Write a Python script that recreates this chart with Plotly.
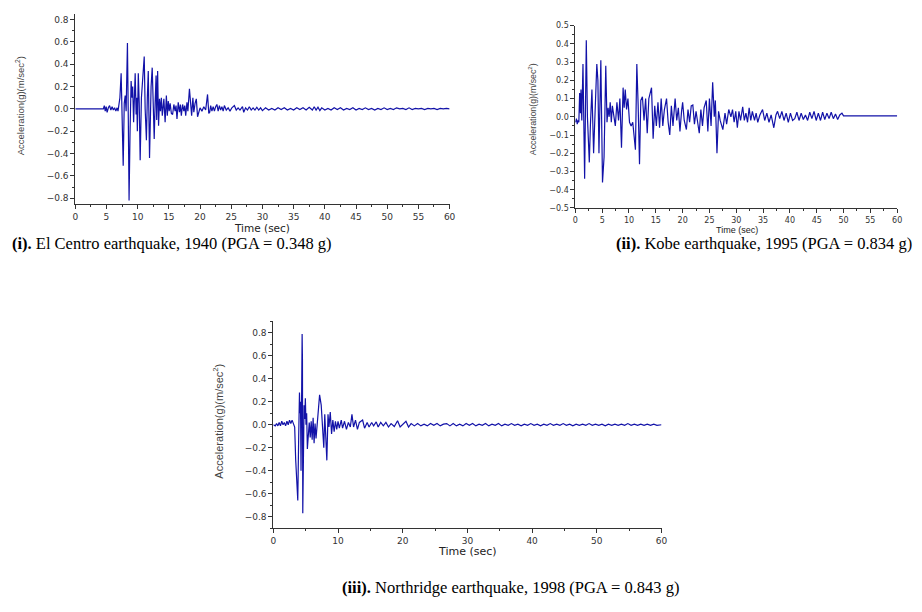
import plotly.graph_objects as go

# ---------------- data ----------------
# (i) El Centro, 1940
elcentro_t = [0, 4.5, 4.65, 4.8, 4.95, 5.1, 5.3, 5.5, 5.7, 5.9, 6.1, 6.3, 6.5, 6.7, 6.85, 7.0,
              7.15, 7.35, 7.5, 7.68, 7.85, 8.0, 8.15, 8.36, 8.5, 8.62, 8.78, 8.95, 9.1, 9.2, 9.35,
              9.47, 9.6, 9.75, 9.85, 9.95, 10.1, 10.25, 10.4, 10.6, 10.8, 11.05, 11.2, 11.4, 11.55,
              11.7, 11.9, 12.05, 12.15, 12.33, 12.5, 12.65, 12.8, 12.95, 13.05, 13.2, 13.35, 13.5,
              13.65, 13.8, 13.95, 14.1, 14.2, 14.4, 14.6, 14.75, 14.9, 15.05, 15.2, 15.4, 15.6, 15.8,
              16.0, 16.15, 16.3, 16.5, 16.7, 16.85, 17.0, 17.2, 17.4, 17.55, 17.7, 17.9, 18.05, 18.3,
              18.5, 18.65, 18.85, 19.0, 19.2, 19.4, 19.6, 19.8, 20.0, 20.3, 20.6, 20.9, 21.2, 21.4,
              21.55, 21.7, 21.9, 22.1, 22.3, 22.5, 22.7, 22.9, 23.1, 23.3, 23.5, 23.7, 23.9, 24.2,
              24.5, 24.8, 25.1, 25.5, 25.8, 26.1, 26.4, 26.8, 27.0, 27.3, 27.6, 27.9, 28.2, 28.5,
              28.8, 29.1, 29.4, 29.7, 30.0, 30.5, 31.0, 31.5, 32.0, 32.5, 33.0, 33.5, 34.0, 34.5,
              35.0, 35.5, 36.0, 36.5, 37.0, 37.5, 38.0, 38.3, 38.6, 38.9, 39.2, 39.5, 40.0, 40.5,
              41.0, 41.5, 42.0, 42.5, 43.0, 43.5, 44.0, 44.5, 45.0, 45.5, 46.0, 46.5, 47.0, 47.5,
              48.0, 48.5, 49.0, 49.5, 50.0, 50.5, 51.0, 51.5, 52.0, 52.5, 53.0, 53.5, 54.0, 54.5,
              55.0, 55.5, 56.0, 56.5, 57.0, 57.5, 58.0, 58.5, 59.0, 59.5, 60.0]
elcentro_a = [0, 0, 0.03, -0.02, 0.02, -0.03, 0.01, 0.03, -0.01, 0.02, -0.01, 0.01, -0.02, 0.01, -0.02, 0.06,
              0.1, 0.32, 0.0, -0.51, 0.05, 0.12, -0.02, 0.59, -0.1, -0.82, -0.2, 0.25, 0.1, 0.2, -0.12,
              0.05, 0.32, -0.05, 0.1, -0.2, 0.32, 0.05, -0.46, 0.1, 0.3, 0.47, 0.0, -0.28, 0.1,
              0.34, -0.44, 0.0, 0.2, 0.37, 0.0, -0.27, 0.05, 0.3, -0.1, 0.34, -0.15, 0.09,
              -0.02, 0.1, -0.06, 0.03, 0.09, -0.12, 0.12, -0.06, 0.07, -0.02, 0.05, -0.04, -0.05, 0.04,
              -0.02, 0.03, -0.09, 0.06, -0.03, 0.04, -0.06, 0.04, -0.02, 0.03, -0.06, 0.06, -0.02, 0.18,
              0.02, -0.06, 0.1, -0.03, 0.05, 0.09, -0.07, -0.02, 0.01, -0.02, 0.02, -0.01, 0.13, -0.04,
              -0.03, 0.03, -0.02, 0.02, -0.02, 0.02, 0.04, -0.02, 0.03, -0.01, 0.02, -0.02, 0.03, -0.01,
              0.01, -0.02, 0.01, 0.03, -0.01, 0.01, -0.01, 0.02, -0.03, 0.01, -0.01, 0.02, -0.01, 0.01,
              -0.01, 0.015, -0.01, 0.01, -0.015, 0.01, -0.01, 0.005, -0.01, 0.01, -0.005, 0.01, -0.01, 0.005,
              -0.01, 0.01, -0.005, 0.01, -0.01, 0.015, -0.01, 0.02, -0.01, 0.015, -0.015, 0.01, -0.01, 0.005,
              -0.01, 0.01, -0.005, 0.01, -0.01, 0.005, -0.005, 0.01, -0.01, 0.005, -0.005, 0.01, -0.005, 0.005,
              -0.01, 0.005, -0.005, 0.01, -0.005, 0.005, -0.005, 0.01, 0.0, 0.005, -0.005, 0.01, -0.005, 0.005,
              0.0, 0.005, -0.005, 0.005, 0.0, 0.005, -0.005, 0.005, 0.0, 0.005, 0.0]

# (ii) Kobe, 1995
kobe_t = [0, 0.2, 0.35, 0.5, 0.65, 0.8, 0.95, 1.05, 1.2, 1.42, 1.73, 2.04, 2.25, 2.6, 2.8, 3.09, 3.4,
          3.65, 4.0, 4.2, 4.4, 4.75, 5.06, 5.35, 5.67, 5.9, 6.1, 6.3, 6.5, 6.7, 6.9, 7.2, 7.45, 7.75,
          8.05, 8.3, 8.6, 8.9, 9.1, 9.3, 9.55, 9.8, 10.1, 10.4, 10.7, 11.2, 11.46, 11.7, 11.96, 12.2,
          12.5, 12.8, 13.1, 13.4, 13.7, 14.2, 14.5, 14.8, 15.1, 15.4, 15.7, 16.0, 16.3, 16.6, 17.0,
          17.3, 17.6, 17.9, 18.2, 18.6, 18.9, 19.2, 19.5, 19.8, 20.0, 20.3, 20.7, 21.0, 21.3, 21.6,
          21.9, 22.2, 22.5, 22.8, 23.1, 23.4, 23.7, 24.0, 24.4, 24.7, 25.0, 25.3, 25.6, 25.9, 26.1,
          26.4, 26.7, 27.0, 27.5, 27.9, 28.2, 28.6, 29.0, 29.3, 29.6, 29.9, 30.2, 30.5, 30.8, 31.2,
          31.5, 31.8, 32.1, 32.4, 32.7, 33.0, 33.4, 33.7, 34.0, 34.4, 34.9, 35.3, 35.7, 36.1, 36.5,
          37.0, 37.4, 37.7, 38.1, 38.5, 38.9, 39.3, 39.7, 40.1, 40.5, 40.9, 41.3, 41.7, 42.1, 42.5,
          42.9, 43.3, 43.7, 44.1, 44.5, 44.9, 45.3, 45.7, 46.1, 46.5, 46.9, 47.3, 47.7, 48.1, 48.5,
          48.9, 49.3, 49.7, 50.0, 60.0]
kobe_a = [-0.03, -0.01, -0.04, -0.02, -0.03, 0.13, 0.02, 0.15, -0.02, 0.29, -0.34, 0.42, 0.0, -0.25, -0.05, 0.15, -0.2,
          0.0, 0.29, 0.2, -0.2, 0.31, -0.36, -0.22, 0.28, -0.03, 0.05, 0.0, 0.08, -0.03, 0.06, 0.0, -0.05, 0.08,
          -0.02, 0.1, -0.17, 0.16, 0.05, 0.15, 0.04, 0.1, -0.03, -0.05, -0.03, -0.18, 0.29, 0.07, -0.26, 0.09,
          0.11, -0.02, 0.1, -0.09, 0.1, 0.16, -0.12, 0.06, -0.05, 0.08, -0.06, 0.1, -0.05, 0.04, 0.1,
          -0.03, -0.1, 0.06, -0.05, 0.1, -0.02, 0.05, -0.08, 0.03, 0.08, -0.02, -0.07, 0.04, -0.03, 0.06,
          0.065, -0.04, 0.03, -0.03, -0.09, 0.04, -0.05, 0.05, 0.09, -0.08, 0.1, -0.05, 0.19, 0.0, 0.09,
          -0.2, 0.03, -0.02, -0.07, 0.02, -0.04, 0.04, 0.0, 0.04, -0.03, 0.03, -0.06, 0.03, -0.02, 0.055,
          -0.02, 0.02, -0.03, 0.05, -0.02, 0.03, -0.02, 0.02, -0.03, 0.01, 0.04, -0.02, 0.02, -0.03, 0.01,
          -0.06, 0.01, 0.03, -0.01, 0.03, -0.02, 0.02, -0.03, 0.02, -0.02, -0.01, 0.025, -0.02, 0.02, -0.015,
          0.01, -0.02, 0.025, -0.01, 0.03, -0.02, 0.02, -0.02, 0.025, -0.015, 0.02, -0.01, 0.025, -0.01, 0.015,
          -0.015, 0.01, 0.02, 0.005, 0.005]

# (iii) Northridge, 1998
north_t = [0, 0.3, 0.5, 0.7, 0.9, 1.1, 1.3, 1.5, 1.7, 1.9, 2.1, 2.3, 2.5, 2.7, 2.9, 3.1, 3.3, 3.45,
           3.58, 3.78, 3.92, 4.04, 4.12, 4.2, 4.28, 4.38, 4.45, 4.5, 4.55, 4.65, 4.75, 4.85, 4.95,
           5.05, 5.15, 5.26, 5.4, 5.55, 5.7, 5.85, 6.0, 6.15, 6.3, 6.45, 6.6, 6.8, 6.95, 7.15, 7.4,
           7.6, 7.8, 7.95, 8.1, 8.27, 8.45, 8.6, 8.8, 9.0, 9.2, 9.4, 9.6, 9.8, 10.0, 10.2, 10.5,
           10.7, 11.0, 11.3, 11.6, 11.9, 12.15, 12.4, 12.7, 13.0, 13.3, 13.8, 14.1, 14.5, 14.8, 15.2,
           15.5, 15.9, 16.2, 16.6, 17.0, 17.4, 17.8, 18.2, 18.7, 19.2, 19.6, 20.0, 20.5, 20.9, 21.3,
           21.8, 22.3, 22.8, 23.3, 23.8, 24.3, 24.8, 25.3, 25.8, 26.3, 26.8, 27.3, 27.8, 28.3, 28.8,
           29.3, 29.8, 30.3, 30.8, 31.3, 31.8, 32.3, 32.8, 33.3, 33.8, 34.3, 34.8, 35.3, 35.8, 36.3,
           36.8, 37.3, 37.8, 38.3, 38.8, 39.3, 39.8, 40.3, 40.8, 41.3, 41.8, 42.3, 42.8, 43.3, 43.8,
           44.3, 44.8, 45.3, 45.8, 46.3, 46.8, 47.3, 47.8, 48.3, 48.8, 49.3, 49.8, 50.3, 50.8, 51.3,
           51.8, 52.3, 52.8, 53.3, 53.8, 54.3, 54.8, 55.3, 55.8, 56.3, 56.8, 57.3, 57.8, 58.3, 58.8,
           59.3, 60.0]
north_a = [0.0, -0.01, 0.01, -0.01, 0.02, -0.01, 0.03, 0.0, 0.02, -0.01, 0.03, 0.0, 0.04, 0.01, 0.04, 0.0, -0.02, -0.3,
           -0.49, -0.66, -0.1, 0.28, 0.1, 0.2, -0.4, 0.2, 0.79, 0.57, -0.77, 0.05, 0.17, 0.05, 0.23,
           0.0, 0.1, -0.21, -0.05, 0.02, -0.11, 0.03, -0.13, 0.06, -0.16, 0.01, -0.12, 0.0, 0.15, 0.26, 0.17,
           -0.06, -0.2, 0.09, -0.08, -0.31, 0.09, -0.02, 0.11, -0.08, 0.04, -0.06, 0.03, -0.04, 0.03, -0.03, 0.04,
           -0.03, 0.03, -0.04, 0.02, -0.02, 0.09, -0.02, 0.04, -0.04, 0.02, 0.04, -0.03, 0.02, -0.02, 0.02,
           -0.01, 0.025, -0.02, 0.02, -0.01, 0.02, -0.02, 0.01, -0.015, 0.035, -0.02, 0.0, 0.03, -0.02, 0.01,
           -0.01, 0.01, -0.01, 0.005, -0.01, 0.01, -0.005, 0.01, -0.01, 0.005, 0.01, -0.01, 0.01, -0.01, 0.005,
           -0.01, 0.01, -0.005, 0.01, -0.01, 0.005, -0.005, 0.01, -0.01, 0.005, -0.005, 0.01, -0.01, 0.005, -0.005,
           0.01, -0.005, 0.005, -0.01, 0.005, -0.005, 0.01, -0.005, 0.005, -0.01, 0.005, -0.005, 0.01, -0.005, 0.005,
           -0.005, 0.01, -0.005, 0.005, -0.01, 0.005, -0.005, 0.005, -0.005, 0.01, -0.005, 0.005, -0.005, 0.005, -0.01,
           0.005, -0.005, 0.005, -0.005, 0.005, -0.005, 0.01, -0.005, 0.005, -0.005, 0.005, -0.005, 0.005, -0.005, 0.005,
           -0.005, 0.0]

captions = ["<b>(i).</b> El Centro earthquake, 1940 (PGA = 0.348 g)",
            "<b>(ii).</b> Kobe earthquake, 1995 (PGA = 0.834 g)",
            "<b>(iii).</b> Northridge earthquake, 1998 (PGA = 0.843 g)"]
y_title = "Acceleration(g)(m/sec<sup>2</sup>)"
x_title = "Time (sec)"

# ---------------- figure ----------------
W, H = 922, 612
LINE = "#1212a8"
AX = "#333333"
TICKF = "DejaVu Sans"
NARROW = "Liberation Sans Narrow, Arial Narrow, Liberation Sans, Arial"


def dom_x(a, b):
    return [a / W, b / W]


def dom_y(top, bot):
    return [1 - bot / H, 1 - top / H]


fig = go.Figure()
fig.add_trace(go.Scatter(x=elcentro_t, y=elcentro_a, mode="lines", line=dict(color=LINE, width=1.2),
                         xaxis="x", yaxis="y", showlegend=False, hoverinfo="skip"))
fig.add_trace(go.Scatter(x=kobe_t, y=kobe_a, mode="lines", line=dict(color=LINE, width=1.2),
                         xaxis="x2", yaxis="y2", showlegend=False, hoverinfo="skip"))
fig.add_trace(go.Scatter(x=north_t, y=north_a, mode="lines", line=dict(color=LINE, width=1.2),
                         xaxis="x3", yaxis="y3", showlegend=False, hoverinfo="skip"))


def base_x(domain, anchor, dtick, minor, fsize):
    return dict(domain=domain, anchor=anchor, range=[0, 60], dtick=dtick, tick0=0,
                showline=True, linecolor=AX, linewidth=1, ticks="outside", ticklen=4,
                tickcolor=AX, tickwidth=1, showgrid=False, zeroline=False,
                tickfont=dict(family=TICKF, size=fsize, color=AX),
                minor=dict(ticks="outside", ticklen=2, dtick=minor, tickcolor=AX, showgrid=False),
                fixedrange=True)


def base_y(domain, anchor, rng, dtick, minor, fsize):
    return dict(domain=domain, anchor=anchor, range=rng, dtick=dtick, tick0=0,
                showline=True, linecolor=AX, linewidth=1, ticks="outside", ticklen=4,
                tickcolor=AX, tickwidth=1, showgrid=False, zeroline=False,
                tickformat=".1f",
                tickfont=dict(family=TICKF, size=fsize, color=AX),
                minor=dict(ticks="outside", ticklen=2, dtick=minor, tickcolor=AX, showgrid=False),
                fixedrange=True)


def top_x(over, anchor, dtick, tick0):
    return dict(overlaying=over, anchor=anchor, side="top", range=[0, 60], dtick=dtick, tick0=tick0,
                showline=True, linecolor=AX, linewidth=1, ticks="inside", ticklen=3,
                tickcolor=AX, showticklabels=False, showgrid=False, zeroline=False, fixedrange=True)


def right_y(over, anchor, rng, dtick):
    return dict(overlaying=over, anchor=anchor, side="right", range=rng, dtick=dtick, tick0=0,
                showline=True, linecolor=AX, linewidth=1, ticks="inside", ticklen=3,
                tickcolor=AX, showticklabels=False, showgrid=False, zeroline=False, fixedrange=True)


r1 = [-0.852, 0.852]
r2 = [-0.5, 0.5]
r3 = [-0.9, 0.9]

fig.update_layout(
    width=W, height=H, margin=dict(l=0, r=0, t=0, b=0),
    paper_bgcolor="white", plot_bgcolor="white", showlegend=False,
    xaxis=base_x(dom_x(73, 451), "y", 5, 2.5, 9),
    yaxis=base_y(dom_y(10, 203), "x", r1, 0.2, 0.1, 9),
    xaxis2=base_x(dom_x(578, 903), "y2", 5, 2.5, 8),
    yaxis2=base_y(dom_y(22, 207), "x2", r2, 0.1, 0.05, 8),
    xaxis3=base_x(dom_x(273, 665), "y3", 10, 5, 9),
    yaxis3=base_y(dom_y(322, 532), "x3", r3, 0.2, 0.1, 9),
    xaxis4=top_x("x", "y", 10, 0),
    yaxis4=right_y("y", "x", r1, 0.2),
    xaxis5=top_x("x2", "y2", 10, 0),
    yaxis5=right_y("y2", "x2", r2, 0.1),
    xaxis6=top_x("x3", "y3", 6, 0),
    yaxis6=right_y("y3", "x3", r3, 0.2),
)

ann = []
# y-axis titles
for (xp, yp, fs) in [(18, 103, 9.5), (535, 107, 8.8), (217, 423, 11)]:
    ann.append(dict(text=y_title, x=xp / W, y=1 - yp / H, xref="paper", yref="paper",
                    textangle=-90, showarrow=False, xanchor="center", yanchor="middle",
                    font=dict(family=NARROW, size=fs, color="#444444")))
# x-axis titles
ann.append(dict(text=x_title, x=262 / W, y=1 - 227 / H, xref="paper", yref="paper", showarrow=False,
                xanchor="center", yanchor="middle", font=dict(family=TICKF, size=10.5, color="#222222")))
ann.append(dict(text=x_title, x=741 / W, y=1 - 229 / H, xref="paper", yref="paper", showarrow=False,
                xanchor="center", yanchor="middle", font=dict(family=NARROW, size=9, color="#222222")))
ann.append(dict(text=x_title, x=469 / W, y=1 - 556 / H, xref="paper", yref="paper", showarrow=False,
                xanchor="center", yanchor="middle", font=dict(family=TICKF, size=11, color="#222222")))
# captions
CAPF = "Liberation Serif"
ann.append(dict(text=captions[0], x=7 / W, y=1 - 243 / H, xref="paper", yref="paper", showarrow=False,
                xanchor="left", yanchor="middle", font=dict(family=CAPF, size=16.5, color="black")))
ann.append(dict(text=captions[1], x=920 / W, y=1 - 243 / H, xref="paper", yref="paper", showarrow=False,
                xanchor="right", yanchor="middle", font=dict(family=CAPF, size=16.5, color="black")))
ann.append(dict(text=captions[2], x=513 / W, y=1 - 592 / H, xref="paper", yref="paper", showarrow=False,
                xanchor="center", yanchor="middle", font=dict(family=CAPF, size=16.5, color="black")))
fig.update_layout(annotations=ann)

fig.write_html("out.html")
